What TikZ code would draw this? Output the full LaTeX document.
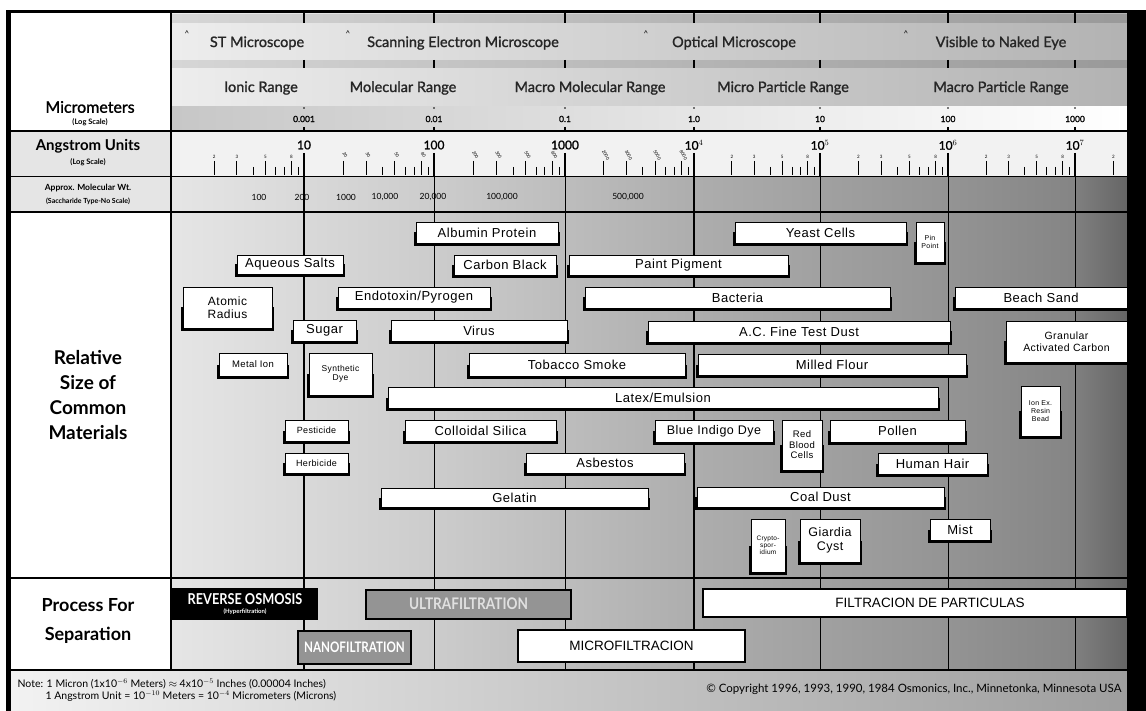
\documentclass[tikz,border=0pt]{standalone}
\usepackage{fontspec}
\setmainfont{Liberation Sans}
\newfontfamily\hdfont{Lato}
\newfontfamily\hdmed{Lato}[FakeBold=1.3]
\newfontfamily\boxfont{Liberation Sans}[LetterSpace=4]
\newcommand\condensedfont{\hdfont\bfseries\fontsize{15}{15}\selectfont}

\begin{document}
\begin{tikzpicture}[x=1pt, y=-1pt,
	matbox/.style={draw=black, line width=0.6pt, fill=white, inner sep=0pt, align=center},
	procbox/.style={draw=black, line width=2pt, inner sep=0pt, align=center},
	hdlabel/.style={font=\hdmed\fontsize{14.5}{15}\selectfont, text=black!85},
	sidelabel/.style={font=\hdfont\bfseries\fontsize{19}{25}\selectfont, align=center},
	caret/.style={font=\hdfont\fontsize{8}{8}\selectfont},
	scalenum/.style={font=\hdmed\fontsize{8.5}{9}\selectfont},
	tinynum/.style={font=\hdfont\fontsize{4.5}{5}\selectfont, inner sep=0pt}]
	\useasboundingbox (0,0) rectangle (1146,711);
	\fill[white] (0,0) rectangle (1146,711);

	% header bands
	\shade[left color=black!7, right color=black!30] (171,13) rectangle (1127,107);
	\shade[left color=black!16, right color=black!40] (171,15) rectangle (1127,23);
	\shade[left color=black!16, right color=black!40] (171,61) rectangle (1127,68);
	\shade[left color=black!22, right color=white] (171,107) rectangle (1127,131);
	\fill[black!5] (171,131) rectangle (1127,177);

	% decade bands
	\foreach \xa/\xb/\ga/\gb in {171/304/10/15, 304/434/15/20, 434/565/20/26, 565/694/26/32,
		694/820/32/37, 820/948/37/42, 948/1075/42/48, 1075/1127/50/60}
		\shade[left color=black!\ga, right color=black!\gb] (\xa,177) rectangle (\xb,670);
	\shade[left color=black!5, right color=black!38] (9,670) rectangle (1127,711);

	% left column cells
	\fill[black!10] (9,131) rectangle (171,212);

	% decade lines
	\foreach \x/\w in {304/1.1, 434/0.5, 565/0.5, 694/1.4, 820/0.5, 948/0.5, 1075/0.5} {
		\draw[line width=\w pt] (\x,177) -- (\x,670);
		\draw[line width=\w pt+0.6pt] (\x,12) -- (\x,23);
		\draw[line width=\w pt+0.6pt] (\x,60) -- (\x,68);
		\fill (\x,108) circle (0.9);
		\draw[line width=\w pt+0.6pt] (\x,127) -- (\x,131);
		\draw[line width=1.6pt] (\x,153) -- (\x,177);
	}

	% angstrom minor ticks
	\foreach \a/\b/\m [count=\d] in {175.5/304/1, 304/434/10, 434/565/100, 565/694/1000,
		694/820/1, 820/948/1, 948/1075/1, 1075/1203/1} {
		\foreach \k in {2,...,9} {
			\pgfmathsetmacro\xk{\a+(\b-\a)*log10(\k)}
			\pgfmathtruncatemacro\big{(\k==2||\k==3||\k==5||\k==8)?1:0}
			\pgfmathtruncatemacro\lab{\k*\m}
			\ifdim\xk pt<1124pt
				\ifnum\big=1
					\draw[line width=0.9pt] (\xk,161) -- (\xk,175);
					\ifnum\m=1
						\node[tinynum] (tk\d\k) at (\xk,157) {\k};
					\else
						\node[tinynum, rotate=-60] (tk\d\k) at (\xk+2,155) {\lab};
					\fi
				\else
					\draw[line width=0.7pt] (\xk,167) -- (\xk,175);
				\fi
			\fi
		}
	}

	% scale labels
	\foreach \x/\t [count=\i] in {304/0.001, 434/0.01, 565/0.1, 694/1.0, 820/10, 948/100, 1075/1000}
		\node[scalenum] (um\i) at (\x,119) {\t};
	\foreach \x/\t [count=\i] in {304/10, 434/100, 565/1000, 694/10$^4$, 820/10$^5$, 948/10$^6$, 1075/10$^7$}
		\node[font=\hdmed\fontsize{12}{12}\selectfont] (ang\i) at (\x,145) {\t};
	\foreach \x/\t [count=\i] in {259/100, 302/200, 346/1000, 385/{10,000}, 433/{20,000}, 502/{100,000}, 628/{500,000}}
		\node[font=\hdfont\fontsize{8.5}{9}\selectfont] (mw\i) at (\x,197) {\t};

	% microscopes and ranges
	\foreach \x/\c/\t [count=\i] in {257/187/ST Microscope, 463/348/Scanning Electron Microscope,
		734/646/Optical Microscope, 1001/906/Visible to Naked Eye} {
		\node[hdlabel] (sc\i) at (\x,43) {\t};
		\node[caret] (ca\i) at (\c,34) {\textasciicircum};
	}
	\foreach \x/\t [count=\i] in {261/Ionic Range, 403/Molecular Range, 590/Macro Molecular Range,
		783/Micro Particle Range, 1001/Macro Particle Range}
		\node[hdlabel] (rg\i) at (\x,88) {\t};

	% materials
	\foreach \n/\xa/\ya/\xb/\yb/\fs/\t in {
		alb/416/222/558/243/13/Albumin Protein, aqs/237/255/343/274/13/Aqueous Salts,
		cbk/454/255/556/275/13/Carbon Black, ppg/569/255/788/275/13/Paint Pigment,
		yst/735/222/906/243/13/Yeast Cells, pin/916/222/944/262/7/{Pin\\Point},
		atr/183/287/272/328/12/{Atomic\\Radius}, etx/338/287/490/308/13/{Endotoxin/Pyrogen},
		bac/585/287/890/308/13/Bacteria, bsd/955/287/1127/308/13/Beach Sand,
		sug/293/320/356/341/13/Sugar, vir/391/320/567/341/13/Virus,
		acd/648/321/950/342/13/A.C. Fine Test Dust, gac/1006/321/1127/362/10.5/{Granular\\Activated Carbon},
		mti/219/353/287/376/9.5/Metal Ion, syd/309/353/372/395/8.5/{Synthetic\\Dye},
		tob/469/353/685/376/13/Tobacco Smoke, mfl/698/354/966/375/13/Milled Flour,
		ltx/388/387/938/408/13/{Latex/Emulsion}, ion/1021/386/1060/436/7/{Ion Ex.\\Resin\\Bead},
		pes/285/420/348/441/9/Pesticide, col/405/420/556/441/13/Colloidal Silica,
		bid/655/420/773/442/12.5/Blue Indigo Dye, rbc/782/420/822/470/9.5/{Red\\Blood\\Cells},
		pol/830/420/965/442/13/Pollen, her/285/453/348/473/9/Herbicide,
		asb/526/453/684/473/13/Asbestos, hhr/878/453/987/474/13/Human Hair,
		gel/381/488/648/507/13/Gelatin, cld/697/487/944/507/13/Coal Dust,
		cry/751/519/785/572/6.5/{Crypto-\\spor-\\idium}, gia/800/519/860/562/12.5/{Giardia\\Cyst},
		mst/930/519/990/540/13/Mist} {
		\pgfmathsetmacro\fsk{\fs*1.1}
		\fill[black] (\xa-2.5,{(\ya+\yb)/2}) rectangle (\xb+2,\yb+3);
		\node[matbox, font=\boxfont\fontsize{\fs}{\fsk}\selectfont, minimum width=\xb-\xa, minimum height=\yb-\ya]
			(\n) at ({(\xa+\xb)/2},{(\ya+\yb)/2}) {\t};
	}

	% processes
	\node[fill=black, text=white, minimum width=146, minimum height=32, inner sep=0pt, align=center]
		(ro) at (245,604) {\scalebox{0.85}[1]{\condensedfont REVERSE OSMOSIS}\\[-3pt]
		{\hdfont\bfseries\fontsize{6}{6}\selectfont (Hyperfiltration)}};
	\node[procbox, fill=black!42, text=black!12, minimum width=205, minimum height=29]
		(uf) at (468.5,604) {\scalebox{0.85}[1]{\hdfont\bfseries\fontsize{16}{16}\selectfont ULTRAFILTRATION}};
	\node[procbox, fill=black!42, text=white, minimum width=113, minimum height=33]
		(nf) at (354.5,647) {\scalebox{0.8}[1]{\hdfont\bfseries\fontsize{14.5}{15}\selectfont NANOFILTRATION}};
	\node[procbox, fill=white, minimum width=227, minimum height=32, font=\fontsize{13.5}{14}\selectfont]
		(mf) at (631.5,645.5) {MICROFILTRACION};
	\node[procbox, fill=white, minimum width=424, minimum height=28] (fp) at (915,602.5) {};
	\node[font=\fontsize{13.5}{14}\selectfont] (fptext) at (930,603) {FILTRACION DE PARTICULAS};

	% side labels
	\node[font=\hdmed\fontsize{16}{17}\selectfont] (um) at (90,107) {Micrometers};
	\node[font=\hdfont\bfseries\fontsize{7.5}{8}\selectfont] (umls) at (90,122) {(Log Scale)};
	\node[font=\hdfont\bfseries\fontsize{15}{16}\selectfont] (ang) at (88,146) {Angstrom Units};
	\node[font=\hdfont\bfseries\fontsize{7.5}{8}\selectfont] (angls) at (88,162) {(Log Scale)};
	\node[font=\hdfont\bfseries\fontsize{8.5}{9}\selectfont] (mwt) at (88,188) {Approx. Molecular Wt.};
	\node[font=\hdfont\bfseries\fontsize{7}{8}\selectfont] (mwts) at (88,201) {(Saccharide Type-No Scale)};
	\node[sidelabel] (rel) at (88,395) {Relative\\Size of\\Common\\Materials};
	\node[sidelabel, font=\hdfont\bfseries\fontsize{18}{29}\selectfont] (proc) at (88,621) {Process For\\Separation};

	% notes
	\node[anchor=west, align=left, font=\hdfont\fontsize{10.5}{11.5}\selectfont] (note) at (14,690)
		{Note: 1 Micron (1x10$^{-6}$ Meters) $\approx$ 4x10$^{-5}$ Inches (0.00004 Inches)\\
		\hspace{28pt}1 Angstrom Unit = 10$^{-10}$ Meters = 10$^{-4}$ Micrometers (Microns)};
	\node[anchor=east, font=\hdfont\fontsize{11.5}{12}\selectfont] (copy) at (1125,689)
		{\textcopyright{} Copyright 1996, 1993, 1990, 1984 Osmonics, Inc., Minnetonka, Minnesota USA};

	% frame
	\draw[line width=1.5pt] (9,131) -- (1127,131);
	\draw[line width=1pt] (9,177) -- (1127,177);
	\draw[line width=1.5pt] (9,212) -- (1127,212);
	\draw[line width=1.5pt] (9,578) -- (1127,578);
	\draw[line width=1.5pt] (9,670) -- (1127,670);
	\draw[line width=2.5pt] (171,12) -- (171,670);
	\draw[line width=3pt] (6,11.5) -- (1127,11.5);
	\fill[black] (6,10) rectangle (11,711);
	\fill[black] (1127,10) rectangle (1146,711);
\end{tikzpicture}
\end{document}
